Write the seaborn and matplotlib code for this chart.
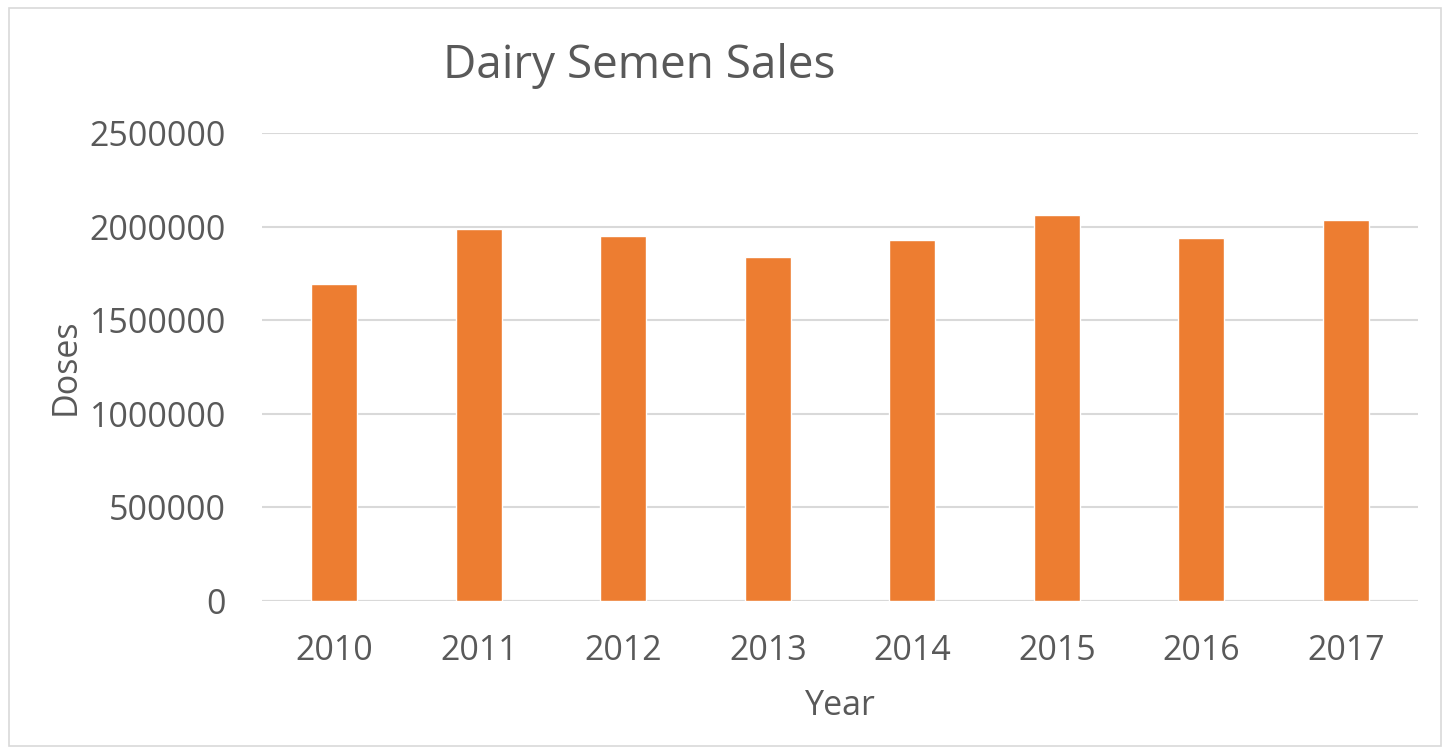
import pandas as pd
import seaborn as sns
import matplotlib.pyplot as plt
from matplotlib.patches import Rectangle

# values
years = ["2010", "2011", "2012", "2013", "2014", "2015", "2016", "2017"]
doses = [1695000, 1988000, 1947000, 1840000, 1930000, 2063000, 1940000, 2036000]
y_ticks = [0, 500000, 1000000, 1500000, 2000000, 2500000]

df = pd.DataFrame({"Year": years, "Doses": doses})

sns.set_style("white")
plt.rcParams['font.family'] = ['Open Sans', 'DejaVu Sans']

grey = "#595959"
fig = plt.figure(figsize=(14.5, 7.5), dpi=100)
ax = fig.add_axes([0.1807, 0.1987, 0.7973, 0.624])

sns.barplot(data=df, x="Year", y="Doses", color="#ed7d31", width=0.32,
            saturation=1, ax=ax, zorder=3)

ax.set_ylim(0, 2500000)
ax.set_yticks(y_ticks)
ax.set_yticklabels([str(t) for t in y_ticks])
ax.set_xlim(-0.5, len(years) - 0.5)
ax.yaxis.grid(True, color="#d9d9d9", linewidth=1.5, zorder=0)
ax.set_axisbelow(True)
for s in ax.spines.values():
    s.set_visible(False)
ax.axhline(0, color="#d9d9d9", linewidth=1.5, zorder=1)

ax.tick_params(axis="both", length=0, labelsize=24.5, labelcolor=grey)
ax.tick_params(axis="x", pad=24)
ax.tick_params(axis="y", pad=26)
ax.set_xlabel("Year", fontsize=24.5, color=grey, labelpad=15)
ax.set_ylabel("Doses", fontsize=24.5, color=grey, labelpad=5)

fig.text(0.441, 0.912, "Dairy Semen Sales", fontsize=33, color=grey,
         ha="center", va="center")

# light border around the chart area
fig.patches.append(Rectangle((0.006, 0.006), 0.988, 0.983, transform=fig.transFigure,
                             fill=False, edgecolor="#d9d9d9", linewidth=1.2))

fig.savefig("out.png", dpi=100)
